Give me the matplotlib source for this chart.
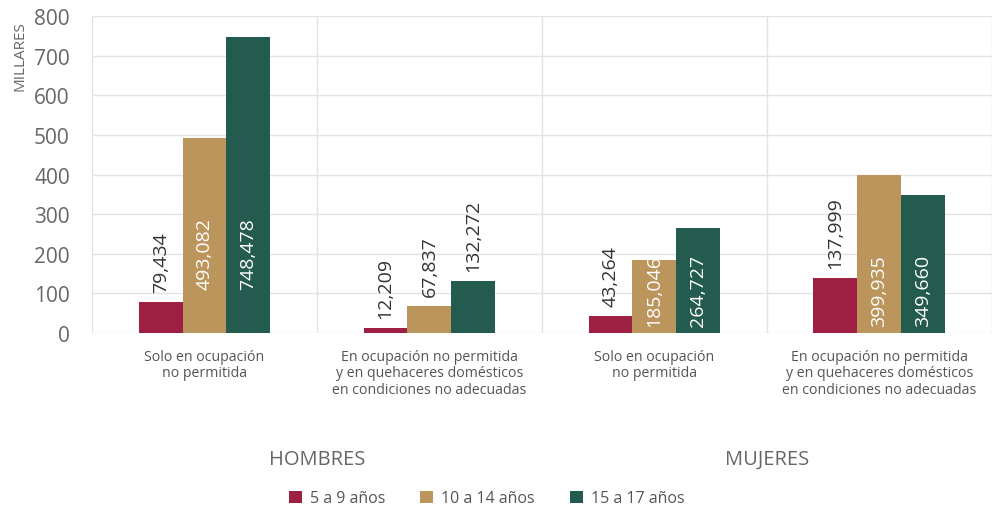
import matplotlib.pyplot as plt
import numpy as np

plt.rcParams['font.family'] = ['Open Sans', 'DejaVu Sans']

categorias = ["Solo en ocupación\nno permitida",
              "En ocupación no permitida\ny en quehaceres domésticos\nen condiciones no adecuadas",
              "Solo en ocupación\nno permitida",
              "En ocupación no permitida\ny en quehaceres domésticos\nen condiciones no adecuadas"]
grupos = ["HOMBRES", "MUJERES"]
series = ["5 a 9 años", "10 a 14 años", "15 a 17 años"]
edad_5_9 = [79.434, 12.209, 43.264, 137.999]
edad_10_14 = [493.082, 67.837, 185.046, 399.935]
edad_15_17 = [748.478, 132.272, 264.727, 349.660]
colores = ["#9D2042", "#BC955C", "#235B4E"]

fig = plt.figure(figsize=(9.93, 5.06), dpi=100)
ax = fig.add_axes([0.0927, 0.340, 0.906, 0.626])

x = np.arange(len(categorias))
w = 0.195
datos = [edad_5_9, edad_10_14, edad_15_17]
for i, (vals, col, nom) in enumerate(zip(datos, colores, series)):
    pos = x + (i - 1) * w
    ax.bar(pos, vals, width=w, color=col, label=nom, zorder=3)
    for j, v in enumerate(vals):
        txt = f"{v * 1000:,.0f}"
        if i > 0 and v > 150:
            # etiquetas dentro de la barra
            base = 110 if j == 0 else 18
            ax.text(pos[j], base, txt, rotation=90, ha='center', va='bottom',
                    color='white', fontsize=14, zorder=4)
        else:
            ax.text(pos[j], v + 25, txt, rotation=90, ha='center', va='bottom',
                    color='#333333', fontsize=14, zorder=4)

ax.set_xlim(-0.5, 3.5)
ax.set_ylim(0, 800)
ax.set_yticks(range(0, 801, 100))
ax.tick_params(axis='y', length=0, labelsize=15, labelcolor='#666666', pad=16)
ax.set_xticks([])
ax.grid(axis='y', color='#e3e3e3', lw=1, zorder=0)
for s in ax.spines.values():
    s.set_visible(False)
for b in [-0.5, 0.5, 1.5, 2.5, 3.5]:
    ax.axvline(b, color='#e3e3e3', lw=1, zorder=0)

for j, c in enumerate(categorias):
    ax.text(x[j], -40, c, ha='center', va='top', fontsize=10.2, color='#555555',
            linespacing=1.15)
for g, nom in enumerate(grupos):
    ax.text(0.5 + 2 * g, -318, nom, ha='center', va='center', fontsize=14.5,
            color='#666666')

fig.text(0.02, 0.89, "MILLARES", rotation=90, ha='center', va='center',
         fontsize=11, color='#666666')

fig.legend(loc='center', bbox_to_anchor=(0.49, 0.013), ncol=3, frameon=False,
           fontsize=11.5, handlelength=0.8, handleheight=0.8, handletextpad=0.5,
           columnspacing=2.2, labelcolor='#555555')

fig.savefig("out.png", dpi=100)
